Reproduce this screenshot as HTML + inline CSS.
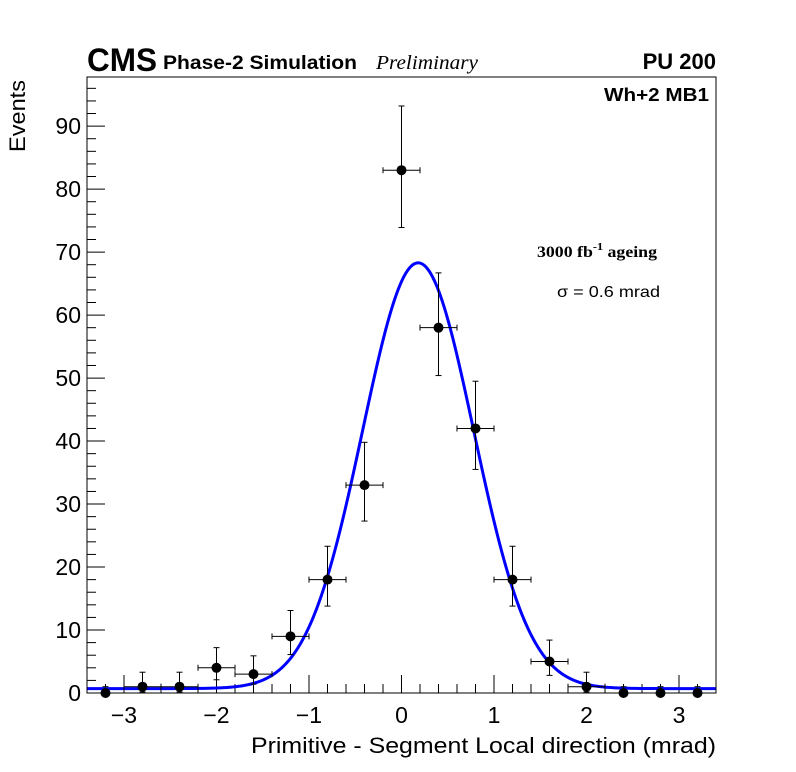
<!DOCTYPE html>
<html><head><meta charset="utf-8"><style>
html,body{margin:0;padding:0;background:#fff;}
svg{display:block;font-family:"Liberation Sans",sans-serif;}
</style></head><body>
<svg id="chart" width="796" height="772" viewBox="0 0 796 772">
<rect x="0" y="0" width="796" height="772" fill="#fff"/>
<text x="87" y="71" font-size="32" font-weight="bold" textLength="70" lengthAdjust="spacingAndGlyphs">CMS</text>
<text x="163" y="69" font-size="19" font-weight="bold" textLength="194" lengthAdjust="spacingAndGlyphs">Phase-2 Simulation</text>
<text x="376" y="69" font-size="20" font-style="italic" font-family="Liberation Serif, serif" textLength="102" lengthAdjust="spacingAndGlyphs">Preliminary</text>
<text x="716" y="69" font-size="22" font-weight="bold" text-anchor="end">PU 200</text>
<text x="604" y="101" font-size="18" font-weight="bold" textLength="105" lengthAdjust="spacingAndGlyphs">Wh+2 MB1</text>
<text x="537" y="257" font-size="16" font-weight="bold" font-family="Liberation Serif, serif" textLength="120" lengthAdjust="spacingAndGlyphs">3000 fb<tspan dy="-7" font-size="11">-1</tspan><tspan dy="7"> ageing</tspan></text>
<text x="557" y="297" font-size="16" textLength="103" lengthAdjust="spacingAndGlyphs">σ = 0.6 mrad</text>
<text x="251" y="753" font-size="22" textLength="465" lengthAdjust="spacingAndGlyphs">Primitive - Segment Local direction (mrad)</text>
<text transform="translate(25,152) rotate(-90)" font-size="22" textLength="72" lengthAdjust="spacingAndGlyphs">Events</text>
<g id="axes"></g>
<g id="marks"></g>
<rect x="87" y="77" width="629" height="616" fill="none" stroke="#000" stroke-width="1"/>
</svg>
<script>
const binCenters = [-3.2,-2.8,-2.4,-2.0,-1.6,-1.2,-0.8,-0.4,0,0.4,0.8,1.2,1.6,2.0,2.4,2.8,3.2];
const counts = [0,1,1,4,3,9,18,33,83,58,42,18,5,1,0,0,0];
const errUp = [1.0,2.3,2.3,3.2,2.9,4.1,5.3,6.8,10.2,8.7,7.5,5.3,3.4,2.3,1.0,1.0,1.0];
const errDown = [0,0.83,0.83,1.9,1.6,2.9,4.2,5.7,9.1,7.6,6.5,4.2,2.2,0.83,0,0,0];
const fitParams = [67.6, 0.18, 0.6, 0.7]; // amplitude, mean, sigma, constant
const xTicks = [-3,-2,-1,0,1,2,3];
const yTicks = [0,10,20,30,40,50,60,70,80,90];
const xMin=-3.4,xMax=3.4,yMin=0,yMax=97.8;
const L=87,R=716,T=77,B=693;
const sx=v=>L+(v-xMin)/(xMax-xMin)*(R-L);
const sy=v=>B-(v-yMin)/(yMax-yMin)*(B-T);
const NS='http://www.w3.org/2000/svg';
const axes=document.getElementById('axes'),marks=document.getElementById('marks');
function mk(tag,attrs,parent){const e=document.createElementNS(NS,tag);for(const k in attrs)e.setAttribute(k,attrs[k]);parent.appendChild(e);return e;}
for(let i=-17;i<=17;i++){const v=i*0.2;const x=sx(v);const major=Math.abs(v-Math.round(v))<1e-6;
 const t=mk('line',{x1:x,x2:x,y1:B,y2:B-(major?18:9),stroke:'#000','stroke-width':1},axes);
 
 }
xTicks.forEach(v=>{const t=mk('text',{x:sx(v),y:B+30,'font-size':23,'text-anchor':'middle'},axes);t.textContent=v<0?'\u2212'+Math.abs(v):String(v);
 
 });
for(let v=0;v<=96;v+=2){const y=sy(v);const major=v%10===0;
 const t=mk('line',{x1:L,x2:L+(major?18:9),y1:y,y2:y,stroke:'#000','stroke-width':1},axes);
 
 }
yTicks.forEach(v=>{const t=mk('text',{x:L-6,y:sy(v)+8,'font-size':23,'text-anchor':'end'},axes);t.textContent=String(v);
 
 });
const [A,mu,sg,c]=fitParams;let d='';
for(let i=0;i<=400;i++){const v=xMin+(xMax-xMin)*i/400;const y=A*Math.exp(-(v-mu)*(v-mu)/(2*sg*sg))+c;d+=(i?'L':'M')+sx(v).toFixed(2)+','+sy(y).toFixed(2);}
const fit=mk('path',{d:d,fill:'none',stroke:'#0000ff','stroke-width':3},marks);


binCenters.forEach((xc,i)=>{const g=mk('g',{},marks);
 
 
 const x=sx(xc),y=sy(counts[i]);
 if(counts[i]>0){mk('line',{x1:sx(xc-0.2),x2:sx(xc+0.2),y1:y,y2:y,stroke:'#000','stroke-width':1},g);
  [sx(xc-0.2),sx(xc+0.2)].forEach(ex=>mk('line',{x1:ex,x2:ex,y1:y-3,y2:y+3,stroke:'#000'},g));}
 const yu=sy(counts[i]+errUp[i]),yd=sy(counts[i]-errDown[i]);
 mk('line',{x1:x,x2:x,y1:yu,y2:yd,stroke:'#000','stroke-width':1},g);
 mk('line',{x1:x-3,x2:x+3,y1:yu,y2:yu,stroke:'#000'},g);
 if(errDown[i]>0)mk('line',{x1:x-3,x2:x+3,y1:yd,y2:yd,stroke:'#000'},g);
 mk('circle',{cx:x,cy:y,r:5,fill:'#000'},g);});
</script>
</body></html>
